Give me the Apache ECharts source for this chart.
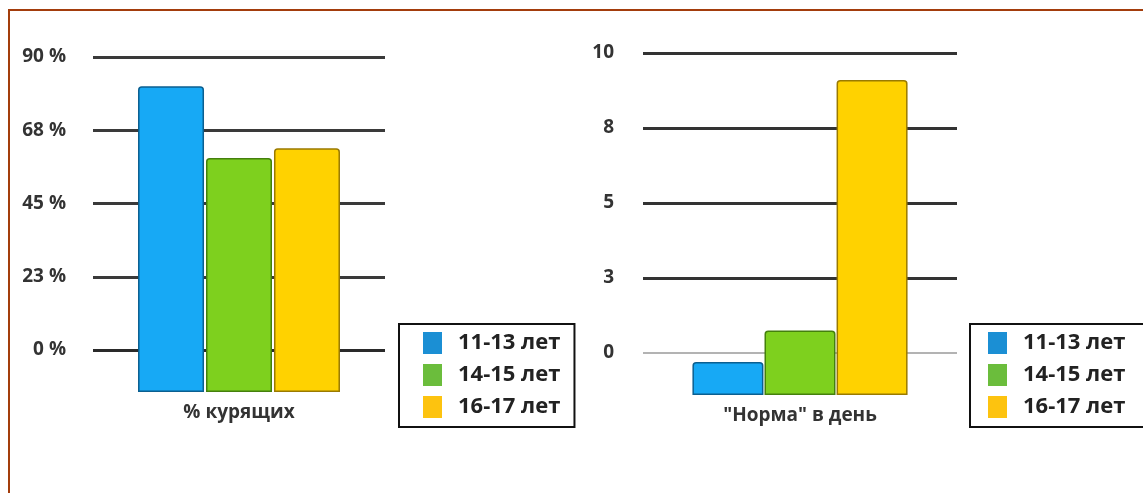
<!DOCTYPE html>
<html><head><meta charset="utf-8">
<script src="https://cdn.jsdelivr.net/npm/echarts@6/dist/echarts.min.js"></script>
<style>html,body{margin:0;padding:0;background:#fff;} #c{width:1143px;height:493px;}</style>
</head><body><div id="c"></div>
<script>
const seriesNames = ['11-13 лет', '14-15 лет', '16-17 лет'];
const leftCategory = ['% курящих'];
const rightCategory = ['"Норма" в день'];
const leftValues = [81, 59, 62];
const rightValues = [-0.3, 0.75, 9.1];
const leftTicks = [0, 22.5, 45, 67.5, 90];
const leftTickLabels = ['0 %', '23 %', '45 %', '68 %', '90 %'];
const rightTicks = [0, 2.5, 5, 7.5, 10];
const rightTickLabels = ['0', '3', '5', '8', '10'];
const leftRange = [-12.9, 90];
const rightRange = [-1.4, 10];

const FONT = 'Open Sans';
const barColors = ['#17a9f5', '#7ed01e', '#ffd200'];
const barBorders = ['#0b5f90', '#44800c', '#9a7a00'];
const legendColors = ['#1b8fd4', '#6bbd3c', '#fdc30f'];

function yAxis(gi, range, ticks, labels, splitColors, margin) {
  return {
    type: 'value', gridIndex: gi, min: range[0], max: range[1], startValue: range[0],
    axisLine: { show: false },
    axisTick: { show: false, customValues: ticks },
    axisLabel: {
      customValues: ticks,
      formatter: v => { const k = ticks.indexOf(v); return k >= 0 ? labels[k] : ''; },
      margin: margin, fontFamily: FONT, fontSize: 19, fontWeight: 'bold', color: '#333'
    },
    splitLine: { show: true, lineStyle: { color: splitColors, width: 3 } }
  };
}
function xAxis(gi, data) {
  return {
    type: 'category', gridIndex: gi, data: data,
    axisLine: { show: false }, axisTick: { show: false },
    axisLabel: { margin: 11, fontFamily: FONT, fontSize: 19, fontWeight: 'bold', color: '#333' }
  };
}
function legend(left, pad) {
  return {
    left: left, top: 324, orient: 'vertical', selectedMode: false,
    data: seriesNames.map((n, i) => ({ name: n, itemStyle: { color: legendColors[i], borderWidth: 0 } })),
    icon: 'rect', itemWidth: 19, itemHeight: 22, itemGap: 10,
    padding: pad, borderColor: '#111', borderWidth: 2,
    textStyle: { fontSize: 22, fontWeight: 'bold', fontFamily: FONT, color: '#222', padding: [0, 0, 0, 11] }
  };
}
function bars(gi, values, width, gap) {
  return seriesNames.map((n, i) => ({
    type: 'bar', name: n, xAxisIndex: gi, yAxisIndex: gi, data: [values[i]],
    barWidth: width, barGap: gap, z: 3,
    itemStyle: { color: barColors[i], borderColor: barBorders[i], borderWidth: 1.5, borderRadius: [3, 3, 0, 0] }
  }));
}

const rightSeries = bars(1, rightValues, 71, '1.5%');
rightSeries[0].markLine = {
  silent: true, symbol: 'none', z: 1, label: { show: false },
  lineStyle: { color: '#9a9a9a', width: 1.5, type: 'solid' },
  data: [{ yAxis: rightTicks[0] }]
};

const chart = echarts.init(document.getElementById('c'));
chart.setOption({
  animation: false,
  graphic: [{ type: 'rect', shape: { x: 9, y: 10, width: 1400, height: 700 }, style: { fill: 'none', stroke: '#a33d0c', lineWidth: 2 }, z: -1 }],
  grid: [
    { left: 93, top: 57, width: 292, height: 335 },
    { left: 643, top: 53, width: 314, height: 342 }
  ],
  xAxis: [xAxis(0, leftCategory), xAxis(1, rightCategory)],
  yAxis: [
    yAxis(0, leftRange, leftTicks, leftTickLabels, ['#2a2a2a', '#3a3a3a', '#3a3a3a', '#3a3a3a', '#3a3a3a'], 27),
    yAxis(1, rightRange, rightTicks, rightTickLabels, ['rgba(0,0,0,0)', '#333', '#333', '#333', '#333'], 29)
  ],
  legend: [legend(399, [8, 14, 9, 24]), legend(970, [8, 40, 9, 18])],
  series: bars(0, leftValues, 66, '3%').concat(rightSeries)
});
</script></body></html>
